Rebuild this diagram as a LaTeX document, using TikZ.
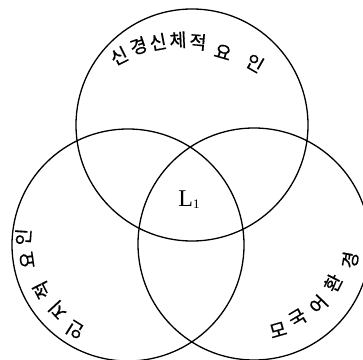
\documentclass[tikz,border=0pt]{standalone}
\usepackage{fontspec}
\setmainfont{Liberation Serif}
\newfontfamily\kr[FakeBold=0.6]{Noto Sans CJK KR}
\tikzset{
  venn/.style={circle, draw, line width=1.3pt, minimum size=232pt, inner sep=0pt},
  kc/.style={font=\kr\fontsize{18.5}{18.5}\selectfont, inner sep=0pt}
}
\begin{document}
\begin{tikzpicture}[x=1pt,y=1pt]
\useasboundingbox (0,0) rectangle (363,359);
\node[venn] (ctop) at (192,234) {};
\node[venn] (cleft) at (128,114) {};
\node[venn] (cright) at (254,115) {};
% top text
\node[kc, rotate=26.6] (t1) at (119,303) {신};
\node[kc, rotate=18.7] (t2) at (138.5,313) {경};
\node[kc, rotate=10.7] (t3) at (158,317) {신};
\node[kc, rotate=2.8]  (t4) at (178,319) {체};
\node[kc, rotate=-5.2] (t5) at (198,317) {적};
\node[kc, rotate=-16]  (t6) at (223,307) {요};
\node[kc, rotate=-29.8](t7) at (255,296) {인};
% left text
\node[kc, rotate=148] (l1) at (75,29) {인};
\node[kc, rotate=133] (l2) at (58,49) {지};
\node[kc, rotate=117] (l3) at (42,69) {적};
\node[kc, rotate=98]  (l4) at (27,99) {요};
\node[kc, rotate=86]  (l5) at (23,122) {인};
% right text
\node[kc, rotate=16] (r1) at (278,29) {모};
\node[kc, rotate=31] (r2) at (297.5,41) {국};
\node[kc, rotate=46] (r3) at (318.5,54.5) {어};
\node[kc, rotate=63] (r4) at (333,76) {환};
\node[kc, rotate=80] (r5) at (350,99) {경};
% center
\node[inner sep=0pt, font=\fontsize{24}{24}\selectfont] (L1) at (189,159) {L\raisebox{-2pt}{\fontsize{13}{13}\selectfont 1}};
\end{tikzpicture}
\end{document}
